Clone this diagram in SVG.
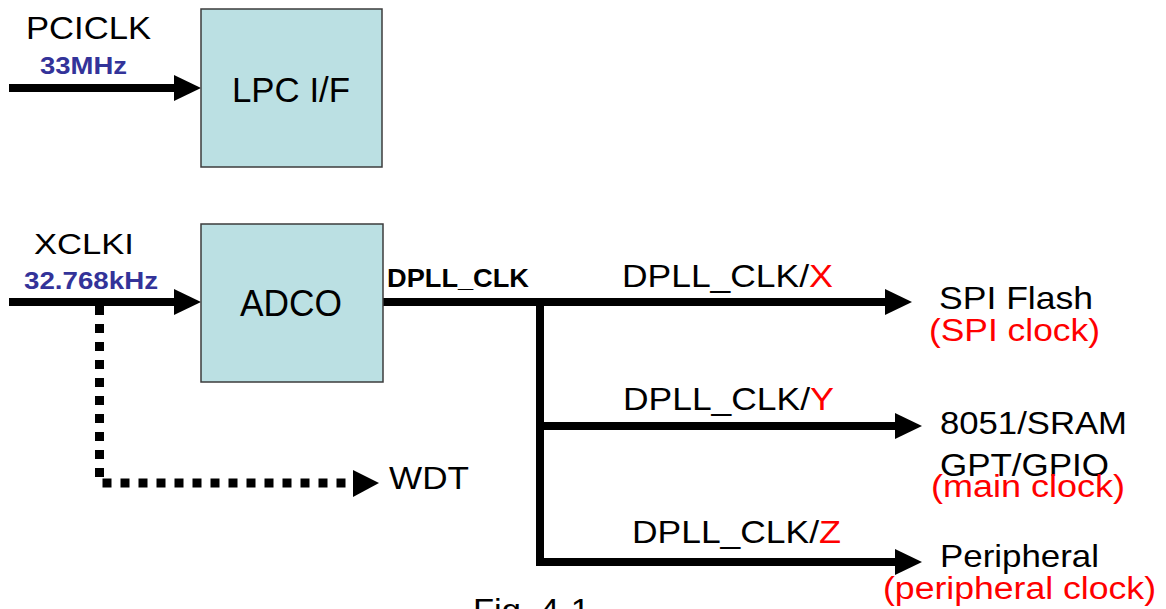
<svg xmlns="http://www.w3.org/2000/svg" width="1166" height="609" viewBox="0 0 1166 609">
<style>
  .box { fill: #bbe0e3; stroke: #3c3c3c; stroke-width: 1.5; }
  .t { font-family: "Liberation Sans", Arial, sans-serif; fill: #000; }
  .b { font-weight: bold; }
  .blue { fill: #333399; }
  .red { fill: #ff0000; }
  .wire { fill: none; stroke: #000; stroke-width: 8; }
  .dot { fill: none; stroke: #000; stroke-width: 9; stroke-dasharray: 9 9; }
</style>
<defs>
  <marker id="ah" viewBox="0 0 27 26" refX="7" refY="13" markerWidth="27" markerHeight="26" markerUnits="userSpaceOnUse" orient="auto">
    <path d="M0,0 L27,13 L0,26 z" fill="#000"/>
  </marker>
</defs>
<rect width="1166" height="609" fill="#fff"/>

<g id="connectors">
  <path class="wire" d="M9,88 H181" marker-end="url(#ah)"/>
  <path class="wire" d="M9,302 H181" marker-end="url(#ah)"/>
  <path class="wire" d="M383,302 H892" marker-end="url(#ah)"/>
  <path class="wire" d="M540,298 V566"/>
  <path class="wire" d="M536,426 H902" marker-end="url(#ah)"/>
  <path class="wire" d="M536,562 H902" marker-end="url(#ah)"/>
  <path class="dot" d="M99.5,306 V483 H350"/>
  <path d="M353,470 L379,483 L353,497 z" fill="#000"/>
</g>

<g id="lpc">
  <rect class="box" x="201" y="9" width="181" height="158"/>
  <text class="t" x="232" y="102" font-size="35" textLength="118" lengthAdjust="spacingAndGlyphs">LPC I/F</text>
</g>
<g id="adco">
  <rect class="box" x="201" y="224" width="182" height="158"/>
  <text class="t" x="240" y="316" font-size="36" textLength="102" lengthAdjust="spacingAndGlyphs">ADCO</text>
</g>

<g id="labels">
  <text class="t" x="26" y="39" font-size="31" textLength="125" lengthAdjust="spacingAndGlyphs">PCICLK</text>
  <text class="t b blue" x="40" y="74" font-size="23" textLength="87" lengthAdjust="spacingAndGlyphs">33MHz</text>
  <text class="t" x="34" y="254" font-size="30" textLength="100" lengthAdjust="spacingAndGlyphs">XCLKI</text>
  <text class="t b blue" x="24" y="289" font-size="23" textLength="134" lengthAdjust="spacingAndGlyphs">32.768kHz</text>
  <text class="t b" x="387" y="287" font-size="26" textLength="142" lengthAdjust="spacingAndGlyphs">DPLL_CLK</text>

  <text class="t" x="622" y="287" font-size="31" textLength="187" lengthAdjust="spacingAndGlyphs">DPLL_CLK/</text>
  <text class="t red" x="809" y="287" font-size="31" textLength="24" lengthAdjust="spacingAndGlyphs">X</text>
  <text class="t" x="623" y="410" font-size="31" textLength="187" lengthAdjust="spacingAndGlyphs">DPLL_CLK/</text>
  <text class="t red" x="810" y="410" font-size="31" textLength="24" lengthAdjust="spacingAndGlyphs">Y</text>
  <text class="t" x="632" y="543" font-size="31" textLength="187" lengthAdjust="spacingAndGlyphs">DPLL_CLK/</text>
  <text class="t red" x="819" y="543" font-size="31" textLength="22" lengthAdjust="spacingAndGlyphs">Z</text>

  <text class="t" x="939" y="309" font-size="32" textLength="154" lengthAdjust="spacingAndGlyphs">SPI Flash</text>
  <text class="t red" x="929" y="341" font-size="31" textLength="171" lengthAdjust="spacingAndGlyphs">(SPI clock)</text>
  <text class="t" x="940" y="434" font-size="32" textLength="187" lengthAdjust="spacingAndGlyphs">8051/SRAM</text>
  <text class="t" x="940" y="476" font-size="32" textLength="169" lengthAdjust="spacingAndGlyphs">GPT/GPIO</text>
  <text class="t red" x="931" y="497" font-size="31" textLength="194" lengthAdjust="spacingAndGlyphs">(main clock)</text>
  <text class="t" x="940" y="567" font-size="32" textLength="159" lengthAdjust="spacingAndGlyphs">Peripheral</text>
  <text class="t red" x="883" y="599" font-size="31" textLength="273" lengthAdjust="spacingAndGlyphs">(peripheral clock)</text>

  <text class="t" x="389" y="489" font-size="32" textLength="80" lengthAdjust="spacingAndGlyphs">WDT</text>
  <text class="t" x="473" y="621" font-size="31" textLength="117" lengthAdjust="spacingAndGlyphs">Fig. 4-1</text>
</g>
</svg>
